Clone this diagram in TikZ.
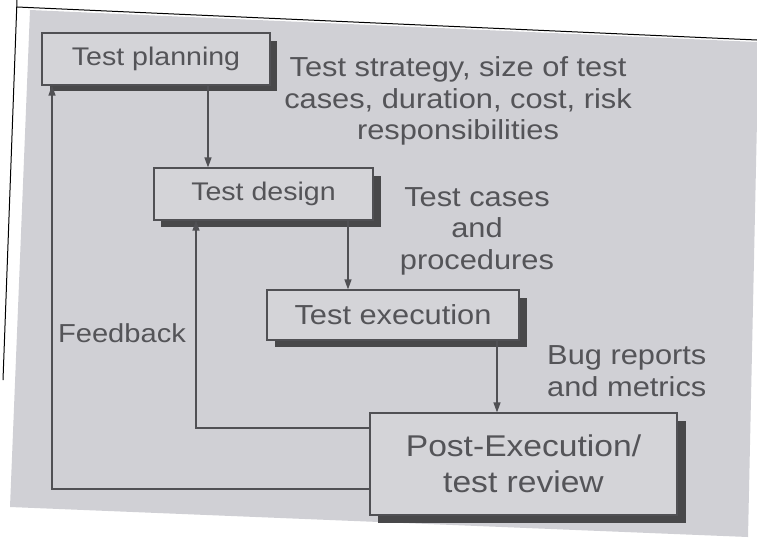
\documentclass[tikz,border=0pt]{standalone}
\usepackage{fontspec}
\setmainfont{Liberation Sans}[FakeStretch=1.12]
\usetikzlibrary{arrows.meta}
\definecolor{panel}{RGB}{208,208,213}
\definecolor{boxfill}{RGB}{212,212,216}
\definecolor{ink}{RGB}{84,84,88}
\definecolor{edge}{RGB}{80,80,84}
\definecolor{shade}{RGB}{72,72,74}
\tikzset{
  procbox/.style={draw=edge, line width=1.2pt, fill=boxfill, text=ink, inner sep=0pt, align=center,
    font=\fontsize{25.5}{34}\selectfont},
  lbl/.style={text=ink, align=center, inner sep=0pt, font=\fontsize{27.5}{31.5}\selectfont},
  arr/.style={draw=edge, line width=1.3pt, -{Triangle[length=10pt,width=7pt]}},
  shadowbox/.style={fill=shade, draw=none}
}
\begin{document}
\begin{tikzpicture}[x=1pt,y=-1pt]
\useasboundingbox (0,0) rectangle (757,539);
\fill[white] (0,0) rectangle (757,539);
% scanned grey panel
\fill[panel] (30,10) -- (757,42) -- (757,120) -- (748,537) -- (10,507) -- cycle;
\draw[black, line width=1pt] (17,0) -- (3,380);
\draw[black, line width=1pt] (17,7) -- (757,40);
% shadows
\fill[shadowbox] (50,41) rectangle (277,91);
\fill[shadowbox] (161,176) rectangle (381,227);
\fill[shadowbox] (275,298) rectangle (527,347);
\fill[shadowbox] (378,421) rectangle (686,523);
% boxes
\node[procbox, minimum width=228pt, minimum height=52pt] (plan) at (156,59) {Test planning};
\node[procbox, minimum width=219pt, minimum height=52pt] (design) at (263.5,194) {Test design};
\node[procbox, minimum width=252pt, minimum height=50pt, font=\fontsize{27.5}{34}\selectfont] (exec) at (393,315) {Test execution};
\node[procbox, minimum width=307pt, minimum height=102pt, font=\fontsize{30}{36}\selectfont] (post) at (523.5,464) {Post-Execution/\\test review};
% labels
\node[lbl] (l1) at (458,101) {Test strategy, size of test\\cases, duration, cost, risk\\responsibilities};
\node[lbl] (l2) at (477,231) {Test cases\\and\\procedures};
\node[lbl, align=left, anchor=west] (l3) at (547,371) {Bug reports\\and metrics};
\node[lbl, font=\fontsize{26}{31}\selectfont] (fb) at (122,333) {Feedback};
% x positions of vertical connectors
\coordinate (x1) at (208,0);
\coordinate (x2) at (348,0);
\coordinate (x3) at (497,0);
\coordinate (x4) at (196,0);
\coordinate (x5) at (52,0);
\draw[arr] (plan.south -| x1) -- (design.north -| x1);
\draw[arr] (design.south -| x2) -- (exec.north -| x2);
\draw[arr] (exec.south -| x3) -- (post.north -| x3);
\draw[arr] ([yshift=36pt]post.west) -| (design.south -| x4);
\draw[arr] ([yshift=-25pt]post.west) -| (plan.south -| x5);
\end{tikzpicture}
\end{document}
